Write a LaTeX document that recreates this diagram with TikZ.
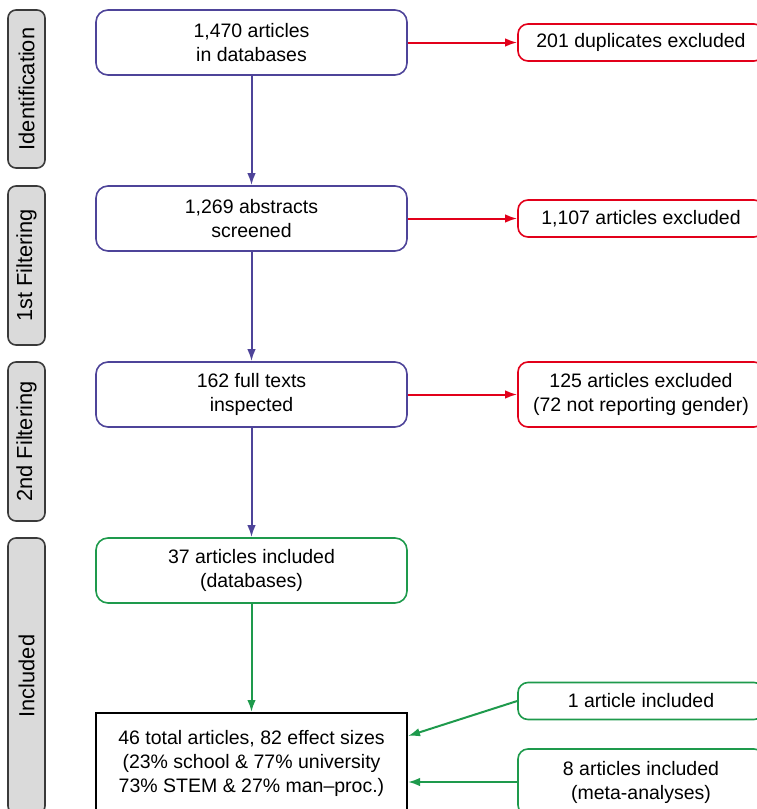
\documentclass[tikz,border=0pt]{standalone}
\usepackage{fontspec}
\setmainfont{Liberation Sans}
\usetikzlibrary{arrows.meta}

\definecolor{flowblue}{HTML}{4E4499}
\definecolor{flowred}{HTML}{E2001A}
\definecolor{flowgreen}{HTML}{1E9A4C}
\definecolor{stagefill}{HTML}{DADADA}
\definecolor{stageline}{HTML}{3A3A3A}

\begin{document}
\begin{tikzpicture}[x=1pt,y=-1pt,
  every node/.style={align=center,inner sep=0pt,font=\fontsize{19.5}{24}\selectfont},
  stage/.style={draw=stageline,fill=stagefill,line width=1.6pt,rounded corners=8pt,
    rotate=90,minimum height=37pt,font=\fontsize{21.8}{26}\selectfont},
  box/.style={draw,line width=1.6pt,rounded corners=12pt,minimum width=311pt,minimum height=65pt},
  side/.style={draw,line width=1.6pt,rounded corners=10pt,minimum width=246pt,minimum height=37pt},
  arr/.style={line width=2pt,-{Latex[length=12pt,width=8.5pt]}}]
  \useasboundingbox (0,0) rectangle (757,809);

  % stages on the left
  \node[stage,minimum width=158pt] (ident) at (26.5,89) {Identification};
  \node[stage,minimum width=159pt] (first) at (26.5,265.5) {1st Filtering};
  \node[stage,minimum width=159pt] (second) at (26.5,441.5) {2nd Filtering};
  \node[stage,minimum width=276pt] (incl) at (26.5,676) {Included};

  % main column
  \node[box,draw=flowblue] (db) at (251.5,42.5) {1,470 articles\\in databases};
  \node[box,draw=flowblue] (abstr) at (251.5,218.5) {1,269 abstracts\\screened};
  \node[box,draw=flowblue] (full) at (251.5,394.5) {162 full texts\\inspected};
  \node[box,draw=flowgreen] (kept) at (251.5,570.5) {37 articles included\\(databases)};
  \node[draw,line width=2pt,minimum width=311pt,minimum height=100pt] (total) at (251.5,763)
    {46 total articles, 82 effect sizes\\(23\% school \& 77\% university\\73\% STEM \& 27\% man--proc.)};

  % right column
  \node[side,draw=flowred] (dup) at (641,42.5) {201 duplicates excluded};
  \node[side,draw=flowred] (exclA) at (641,218.5) {1,107 articles excluded};
  \node[side,draw=flowred,minimum height=65pt] (exclB) at (641,394.5)
    {125 articles excluded\\(72 not reporting gender)};
  \node[side,draw=flowgreen] (one) at (641,701) {1 article included};
  \node[side,draw=flowgreen,minimum height=66pt] (meta) at (641,782)
    {8 articles included\\(meta-analyses)};

  \draw[arr,flowblue] (db) -- (abstr);
  \draw[arr,flowblue] (abstr) -- (full);
  \draw[arr,flowblue] (full) -- (kept);
  \draw[arr,flowgreen] (kept) -- (total);

  \draw[arr,flowred] (db) -- (dup);
  \draw[arr,flowred] (abstr) -- (exclA);
  \draw[arr,flowred] (full) -- (exclB);
  \draw[arr,flowgreen] (one.west) -- ([yshift=27pt]total.east);
  \draw[arr,flowgreen] (meta.west) -- (meta.west -| total.east);
\end{tikzpicture}
\end{document}
